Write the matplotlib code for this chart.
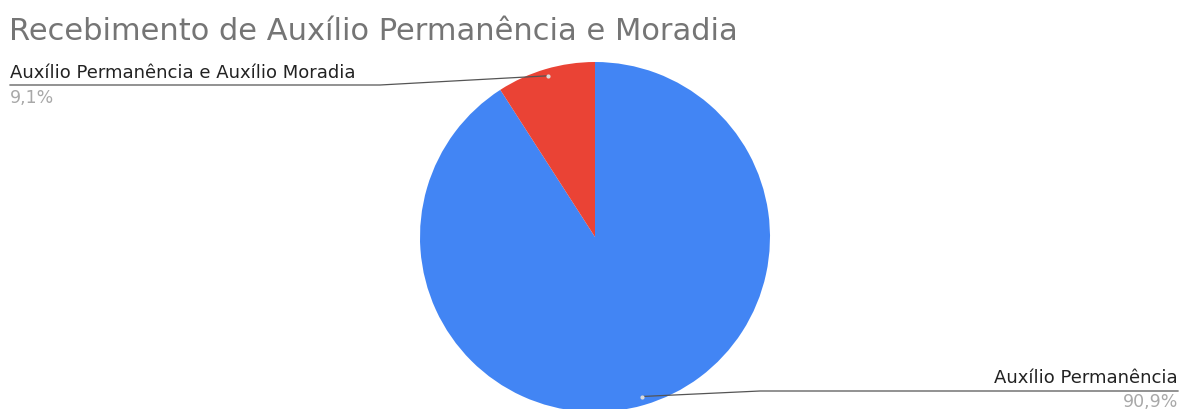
import matplotlib
matplotlib.use("Agg")
import matplotlib.pyplot as plt
import numpy as np

title = "Recebimento de Auxílio Permanência e Moradia"
categories = ["Auxílio Permanência", "Auxílio Permanência e Auxílio Moradia"]
values = [90.9, 9.1]
pct_labels = ["90,9%", "9,1%"]
colors = ["#4285F4", "#EA4335"]

FAM = ["DejaVu Sans"]
W, H = 1181, 409
fig = plt.figure(figsize=(W / 100, H / 100), dpi=100)
ax = fig.add_axes([0, 0, 1, 1])

def Y(y):
    return H - y

cx, cy, R = 595, Y(237), 175
wedges, _ = ax.pie(values, colors=colors, startangle=90, counterclock=False,
                   center=(cx, cy), radius=R, frame=True,
                   wedgeprops=dict(linewidth=0))
ax.set_xlim(0, W)
ax.set_ylim(0, H)
ax.set_aspect("equal")
ax.axis("off")

fig.text(9 / W, 1 - 31 / H, title, fontsize=22, color="#757575",
         va="center", ha="left", family=FAM)

lc = "#555555"
# red label (left)
t1 = wedges[1]
ang = np.deg2rad((t1.theta1 + t1.theta2) / 2)
px, py = cx + 0.96 * R * np.cos(ang), cy + 0.96 * R * np.sin(ang)
ax.plot([px, 380, 10], [py, Y(85), Y(85)], color=lc, lw=0.9)
ax.plot([px], [py], "o", ms=2, color="#dddddd")
ax.text(10, Y(73), categories[1], fontsize=13, color="#222222", ha="left", va="center",
        family=FAM)
ax.text(10, Y(98), pct_labels[1], fontsize=12.5, color="#a8a8a8", ha="left", va="center",
        family=FAM)

# blue label (right)
t0 = wedges[0]
ang = np.deg2rad((t0.theta1 + t0.theta2) / 2)
px, py = cx + 0.95 * R * np.cos(ang), cy + 0.95 * R * np.sin(ang)
ax.plot([px, 760, 1178], [py, Y(391), Y(391)], color=lc, lw=0.9)
ax.plot([px], [py], "o", ms=2, color="#dddddd")
ax.text(1178, Y(378), categories[0], fontsize=13, color="#222222", ha="right", va="center",
        family=FAM)
ax.text(1178, Y(402), pct_labels[0], fontsize=12.5, color="#a8a8a8", ha="right", va="center",
        family=FAM)

fig.savefig("out.png", dpi=100, facecolor="white")
